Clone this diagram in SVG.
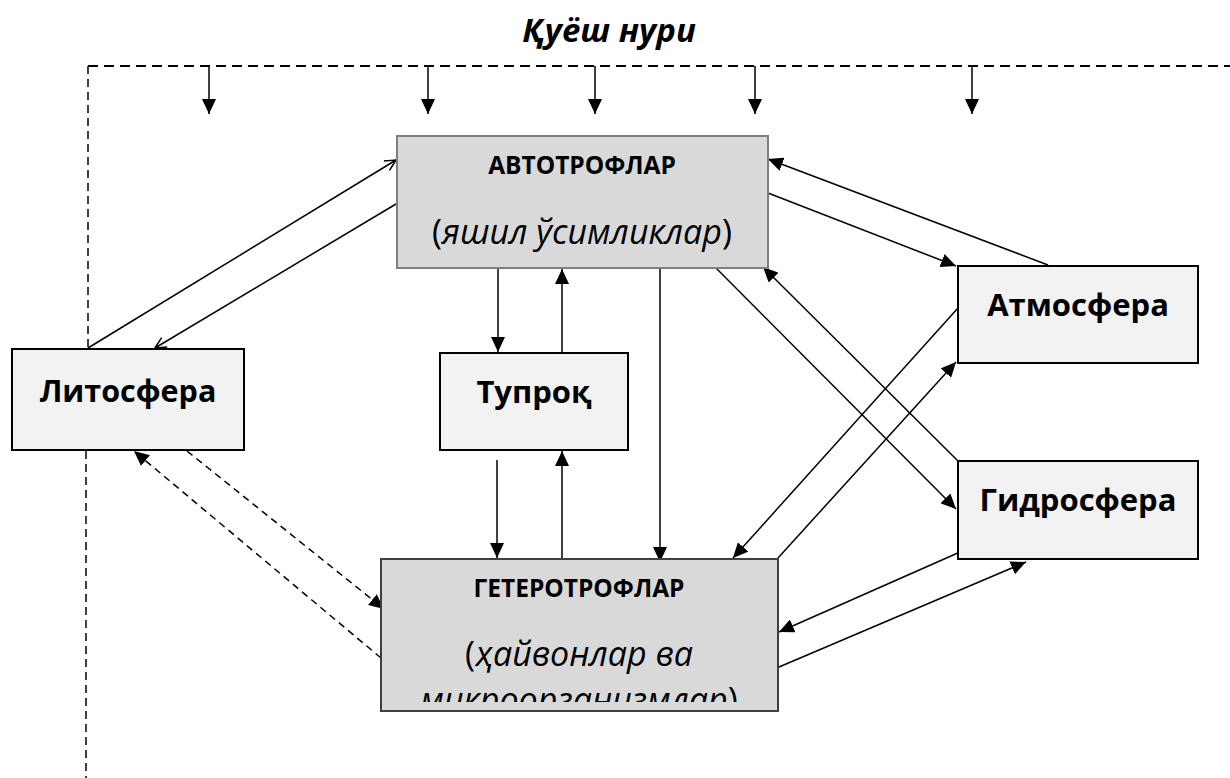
<svg xmlns="http://www.w3.org/2000/svg" width="1230" height="778" viewBox="0 0 1230 778">
<style>
.t{font-family:"Open Sans","Noto Sans",sans-serif;fill:#000;text-anchor:middle}
.b{font-weight:bold}
.i{font-style:italic}
.c{stroke:#000;stroke-width:1.5;fill:none}
.d{stroke-dasharray:7 5}
.box{fill:#f2f2f2;stroke:#000;stroke-width:2}
</style>
<defs>
<marker id="a" markerUnits="userSpaceOnUse" markerWidth="16" markerHeight="14" refX="15" refY="7" orient="auto"><path d="M0,0 L15,7 L0,14 z" fill="#000"/></marker>
<marker id="o" markerUnits="userSpaceOnUse" markerWidth="14" markerHeight="14" refX="12" refY="6" orient="auto"><path d="M1,0.5 L12,6 L1,11.5" fill="none" stroke="#000" stroke-width="1.5"/></marker>
<clipPath id="hc"><rect x="383" y="560" width="393" height="142"/></clipPath>
</defs>
<text class="t b i" x="609" y="42" font-size="33">Қуёш нури</text>
<g id="sun">
<path d="M88,66 H1230" stroke="#000" stroke-width="2" stroke-dasharray="10 6" fill="none"/>
<path d="M88,66 V349 M86,451 V778" stroke="#000" stroke-width="1.5" stroke-dasharray="8 5" fill="none"/>
<g class="c" marker-end="url(#a)">
<path d="M209,66 V114"/><path d="M428,66 V114"/><path d="M595,66 V114"/><path d="M755,66 V114"/><path d="M972,66 V114"/>
</g>
</g>
<g id="connectors">
<g class="c" marker-end="url(#o)">
<path d="M88,348 L396,160"/>
<path d="M396,204 L155,348"/>
</g>
<g class="c" marker-end="url(#a)">
<path d="M498,268 V352"/>
<path d="M562,352 V269"/>
<path d="M497,460 V558"/>
<path d="M562,558 V451"/>
<path d="M660,268 V562"/>
<path d="M1048,265 L768,159"/>
<path d="M768,193 L956,266"/>
<path d="M713,265 L956,509"/>
<path d="M958,461 L763,267"/>
<path d="M958,308 L733,558"/>
<path d="M778,558 L956,362"/>
<path d="M960,552 L779,632"/>
<path d="M779,667 L1026,562"/>
</g>
<g class="c d" marker-end="url(#a)">
<path d="M187,451 L384,609"/>
<path d="M381,658 L134,451"/>
</g>
</g>
<g id="autotrophs">
<rect x="397" y="136" width="371" height="132" fill="#d9d9d9" stroke="#7f7f7f" stroke-width="2"/>
<text class="t b" x="582" y="174" font-size="24.5">АВТОТРОФЛАР</text>
<text class="t" x="582" y="244" font-size="34">(<tspan class="i">яшил ўсимликлар</tspan>)</text>
</g>
<g id="heterotrophs">
<rect x="381" y="559" width="397" height="152" fill="#d9d9d9" stroke="#3f3f3f" stroke-width="2"/>
<text class="t b" x="579" y="597" font-size="24.5">ГЕТЕРОТРОФЛАР</text>
<text class="t" x="579" y="666" font-size="34">(<tspan class="i">ҳайвонлар ва</tspan></text>
<text class="t" x="579" y="712" font-size="34" clip-path="url(#hc)"><tspan class="i">микроорганизмлар</tspan>)</text>
</g>
<g id="lithosphere">
<rect class="box" x="12" y="349" width="232" height="101"/>
<text class="t b" x="128" y="402" font-size="30.5">Литосфера</text>
</g>
<g id="soil">
<rect class="box" x="440" y="353" width="188" height="97"/>
<text class="t b" x="534" y="403" font-size="31">Тупроқ</text>
</g>
<g id="atmosphere">
<rect class="box" x="958" y="266" width="240" height="97"/>
<text class="t b" x="1078" y="316" font-size="31">Атмосфера</text>
</g>
<g id="hydrosphere">
<rect class="box" x="958" y="461" width="240" height="98"/>
<text class="t b" x="1078" y="511" font-size="31">Гидросфера</text>
</g>
</svg>
